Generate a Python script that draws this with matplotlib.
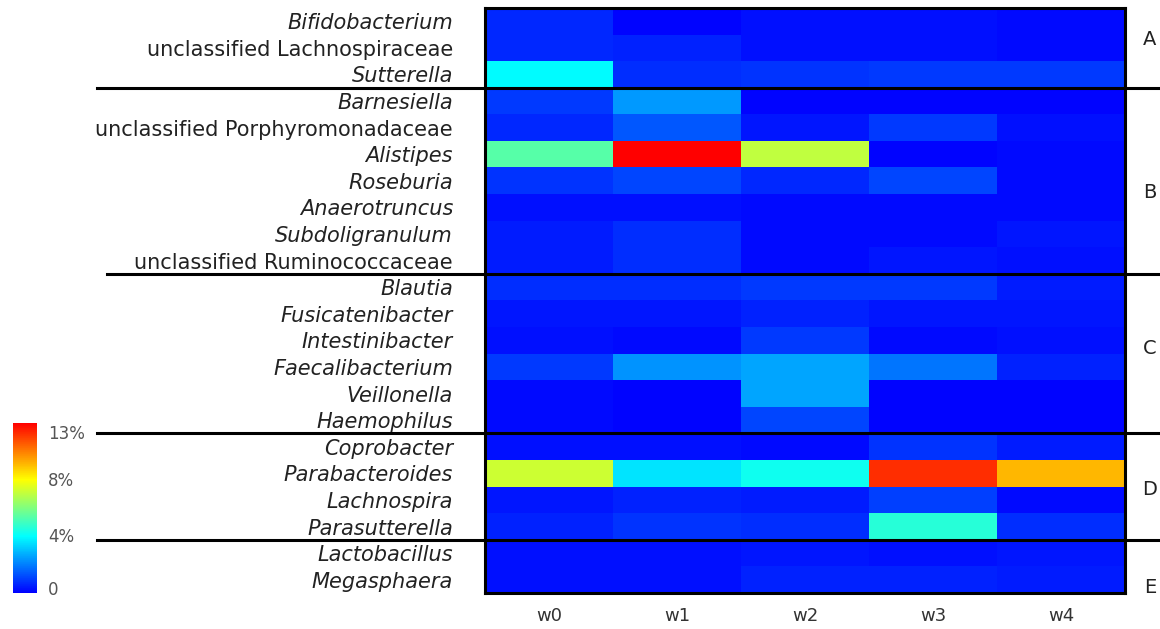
import numpy as np
import matplotlib
matplotlib.use("Agg")
import matplotlib.pyplot as plt
from matplotlib.colors import LinearSegmentedColormap
from matplotlib.transforms import blended_transform_factory

plt.rcParams['font.family'] = ['DejaVu Sans']

weeks = ["w0", "w1", "w2", "w3", "w4"]
taxa = ["Bifidobacterium", "unclassified Lachnospiraceae", "Sutterella",
        "Barnesiella", "unclassified Porphyromonadaceae", "Alistipes", "Roseburia",
        "Anaerotruncus", "Subdoligranulum", "unclassified Ruminococcaceae",
        "Blautia", "Fusicatenibacter", "Intestinibacter", "Faecalibacterium",
        "Veillonella", "Haemophilus",
        "Coprobacter", "Parabacteroides", "Lachnospira", "Parasutterella",
        "Lactobacillus", "Megasphaera"]
# genus names in italics, "unclassified ..." upright
italic = [not t.startswith("unclassified") for t in taxa]
groups = ["A", "B", "C", "D", "E"]
group_sizes = [3, 7, 6, 4, 2]
group_label_rows = [1.2, 6.95, 12.8, 18.1, 21.8]

# relative abundance (%)
abund = np.array([
    [0.7, 0.1, 0.3, 0.3, 0.2],
    [0.7, 0.6, 0.3, 0.3, 0.2],
    [4.3, 0.8, 0.9, 1.0, 1.0],
    [1.0, 2.6, 0.1, 0.1, 0.1],
    [0.7, 1.5, 0.4, 1.0, 0.3],
    [5.8, 13.0, 7.6, 0.1, 0.2],
    [0.9, 1.2, 0.7, 1.2, 0.2],
    [0.3, 0.3, 0.2, 0.2, 0.2],
    [0.5, 0.8, 0.2, 0.2, 0.4],
    [0.5, 0.8, 0.2, 0.4, 0.3],
    [0.8, 0.8, 1.0, 1.0, 0.5],
    [0.4, 0.4, 0.6, 0.4, 0.4],
    [0.3, 0.2, 1.0, 0.2, 0.3],
    [1.0, 2.5, 2.8, 2.0, 0.6],
    [0.2, 0.1, 2.8, 0.1, 0.1],
    [0.2, 0.1, 1.2, 0.1, 0.1],
    [0.3, 0.3, 0.2, 0.9, 0.5],
    [7.8, 3.9, 4.6, 12.2, 9.9],
    [0.4, 0.6, 0.5, 1.1, 0.2],
    [0.6, 0.9, 0.8, 5.0, 0.8],
    [0.3, 0.3, 0.4, 0.3, 0.4],
    [0.3, 0.3, 0.6, 0.6, 0.5],
])

cmap = LinearSegmentedColormap.from_list("bcyr", ["#0000ff", "#00ffff", "#ffff00", "#ff0000"])

W, H = 1160, 629
fig = plt.figure(figsize=(W / 100, H / 100), dpi=100)
ax = fig.add_axes([485 / W, (H - 593) / H, 640 / W, 585 / H])
im = ax.imshow(abund, cmap=cmap, vmin=0, vmax=13, aspect="auto",
               interpolation="nearest", extent=(0, 5, len(taxa), 0))
ax.set_xlim(0, 5)
ax.set_ylim(len(taxa), 0)
for s in ax.spines.values():
    s.set_linewidth(2.2)

ax.set_xticks(np.arange(5) + 0.5)
ax.set_xticklabels(weeks, fontsize=13, color="#333333")
ax.set_yticks(np.arange(len(taxa)) + 0.5)
ax.set_yticklabels(taxa, fontsize=15, color="#222222")
for lab, it in zip(ax.get_yticklabels(), italic):
    if it:
        lab.set_style("italic")
ax.tick_params(length=0, axis="y", pad=23)
ax.tick_params(length=0, axis="x", pad=10)

# group separators and labels
tr = blended_transform_factory(fig.transFigure, ax.transData)
bounds = np.cumsum(group_sizes)[:-1]
starts = [97, 107, 97, 97]
for b, xs in zip(bounds, starts):
    ax.plot([xs / W, 1.0], [b, b], color="black", lw=2.2, transform=tr, clip_on=False)
for g, r in zip(groups, group_label_rows):
    ax.text(1150 / W, r, g, transform=tr, fontsize=14, color="#222222",
            ha="center", va="center")

# colorbar (tick labels sit slightly off the linear scale in the original)
cax = fig.add_axes([13 / W, (H - 593) / H, 24 / W, 170 / H])
cb = fig.colorbar(im, cax=cax)
cb.set_ticks([0.4, 4.4, 8.7, 12.3])
cb.set_ticklabels(["0", "4%", "8%", "13%"])
cb.outline.set_visible(False)
cax.tick_params(length=0, labelsize=12, labelcolor="#555555", pad=8)

fig.savefig("out.png", dpi=100)
